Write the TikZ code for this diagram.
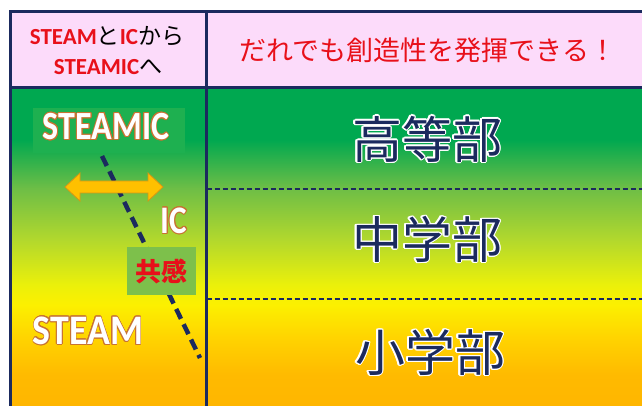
\documentclass[tikz,border=0pt]{standalone}
\usepackage{fontspec}
\setmainfont{Carlito}
\newfontfamily\jp{Noto Sans CJK JP}
\usepackage[copies]{contour}
\usetikzlibrary{calc}
\definecolor{navy}{HTML}{1B2A5E}
\definecolor{pinkbg}{HTML}{FCDBFA}
\definecolor{redtxt}{HTML}{E8101A}
\definecolor{outl}{RGB}{200,115,50}
\definecolor{arrfill}{RGB}{255,192,0}
\definecolor{arrline}{RGB}{215,150,20}
\definecolor{boxgreen}{RGB}{30,176,80}
\definecolor{empgreen}{RGB}{125,192,75}
\definecolor{cA}{RGB}{0,168,80}
\definecolor{cB}{RGB}{0,168,80}
\definecolor{cC}{RGB}{110,190,70}
\definecolor{cD}{RGB}{178,216,45}
\definecolor{cE}{RGB}{235,240,10}
\definecolor{cF}{RGB}{252,240,0}
\definecolor{cG}{RGB}{255,210,0}
\definecolor{cH}{RGB}{255,186,0}
\definecolor{cI}{RGB}{255,182,0}
\pgfdeclareverticalshading{bodyshade}{100bp}{color(0bp)=(cI); color(25bp)=(cI); color(29.87bp)=(cH); color(35.38bp)=(cG); color(40.88bp)=(cF); color(44.03bp)=(cE); color(51.1bp)=(cD); color(59.12bp)=(cC); color(66.82bp)=(cB); color(75bp)=(cA); color(100bp)=(cA)}
\tikzset{
  border/.style={navy, line width=3pt},
  rowsep/.style={navy, line width=1.8pt, dash pattern=on 5pt off 3pt},
  gradeline/.style={navy, line width=4.5pt, dash pattern=on 11pt off 6pt},
  grade/.style={inner sep=0pt, font=\jp\fontsize{50}{50}\selectfont},
  hdr/.style={inner sep=0pt, font=\fontsize{23}{23}\selectfont\bfseries},
  word/.style={inner sep=0pt, font=\bfseries},
}
\newcommand\gradetext[1]{\contourlength{1.4pt}\contour{white}{\textcolor{navy}{#1}}}
\newcommand\wordtext[1]{\contourlength{0.9pt}\contour{outl}{\textcolor{white}{#1}}}
\begin{document}
\begin{tikzpicture}[x=1pt,y=-1pt]
\useasboundingbox (0,0) rectangle (642,406);
\fill[white] (0,0) rectangle (642,406);
% body gradient
\shade[shading=bodyshade] (10,87.5) rectangle (660,406);
% header
\fill[pinkbg] (10,12) rectangle (660,87.5);
% row separators
\coordinate (r1l) at (206.5,189);
\coordinate (r1r) at (660,189);
\coordinate (r2l) at (206.5,299);
\coordinate (r2r) at (660,299);
\draw[rowsep] (r1l) -- (r1r);
\draw[rowsep] (r2l) -- (r2r);
% borders
\draw[border] (10,12) -- (660,12);
\draw[border] (10,87.5) -- (660,87.5);
\draw[border] (10,10.5) -- (10,420);
\draw[border] (206.5,10.5) -- (206.5,420);
% header texts
\node[hdr] (h1) at (107,36) {\textcolor{redtxt}{STEAM}{\jp\mdseries と}\textcolor{redtxt}{IC}{\jp\mdseries から}};
\node[hdr] (h2) at (108,67) {\textcolor{redtxt}{STEAMIC}{\jp\mdseries へ}};
\node[inner sep=0pt, text=redtxt, font=\jp\fontsize{27}{27}\selectfont] (h3) at (428,50) {だれでも創造性を発揮できる！};
% grades
\node[grade] (high) at (427,140) {\gradetext{高等部}};
\node[grade] (mid) at (427,240) {\gradetext{中学部}};
\node[grade] (low) at (430,353) {\gradetext{小学部}};
% left column
\fill[boxgreen] (33,108) rectangle (185,153);
\coordinate (d1) at (102,156);
\coordinate (d2) at (200,358);
\draw[gradeline] (d1) -- (d2);
\filldraw[fill=arrfill, draw=arrline, line width=0.8pt]
  (65,187) -- (80,173) -- (80,181) -- (148,181) -- (148,173) -- (163,187)
  -- (148,201) -- (148,193) -- (80,193) -- (80,201) -- cycle;
\node[word, font=\fontsize{40}{40}\selectfont\bfseries] (steamic) at (106,127) {\scalebox{0.85}[1]{\wordtext{STEAMIC}}};
\node[word, font=\fontsize{39}{39}\selectfont\bfseries] (ic) at (174,221) {\scalebox{0.85}[1]{\wordtext{IC}}};
\node[fill=empgreen, minimum width=69pt, minimum height=48pt, inner sep=0pt] (emp) at (161.5,271) {};
\node[inner sep=0pt, text=redtxt, font=\jp\fontsize{26}{26}\selectfont\bfseries] (emptext) at (emp.center) {共感};
\node[word, font=\fontsize{42}{42}\selectfont\bfseries] (steam) at (88,331) {\scalebox{0.9}[1]{\wordtext{STEAM}}};
\end{tikzpicture}
\end{document}
